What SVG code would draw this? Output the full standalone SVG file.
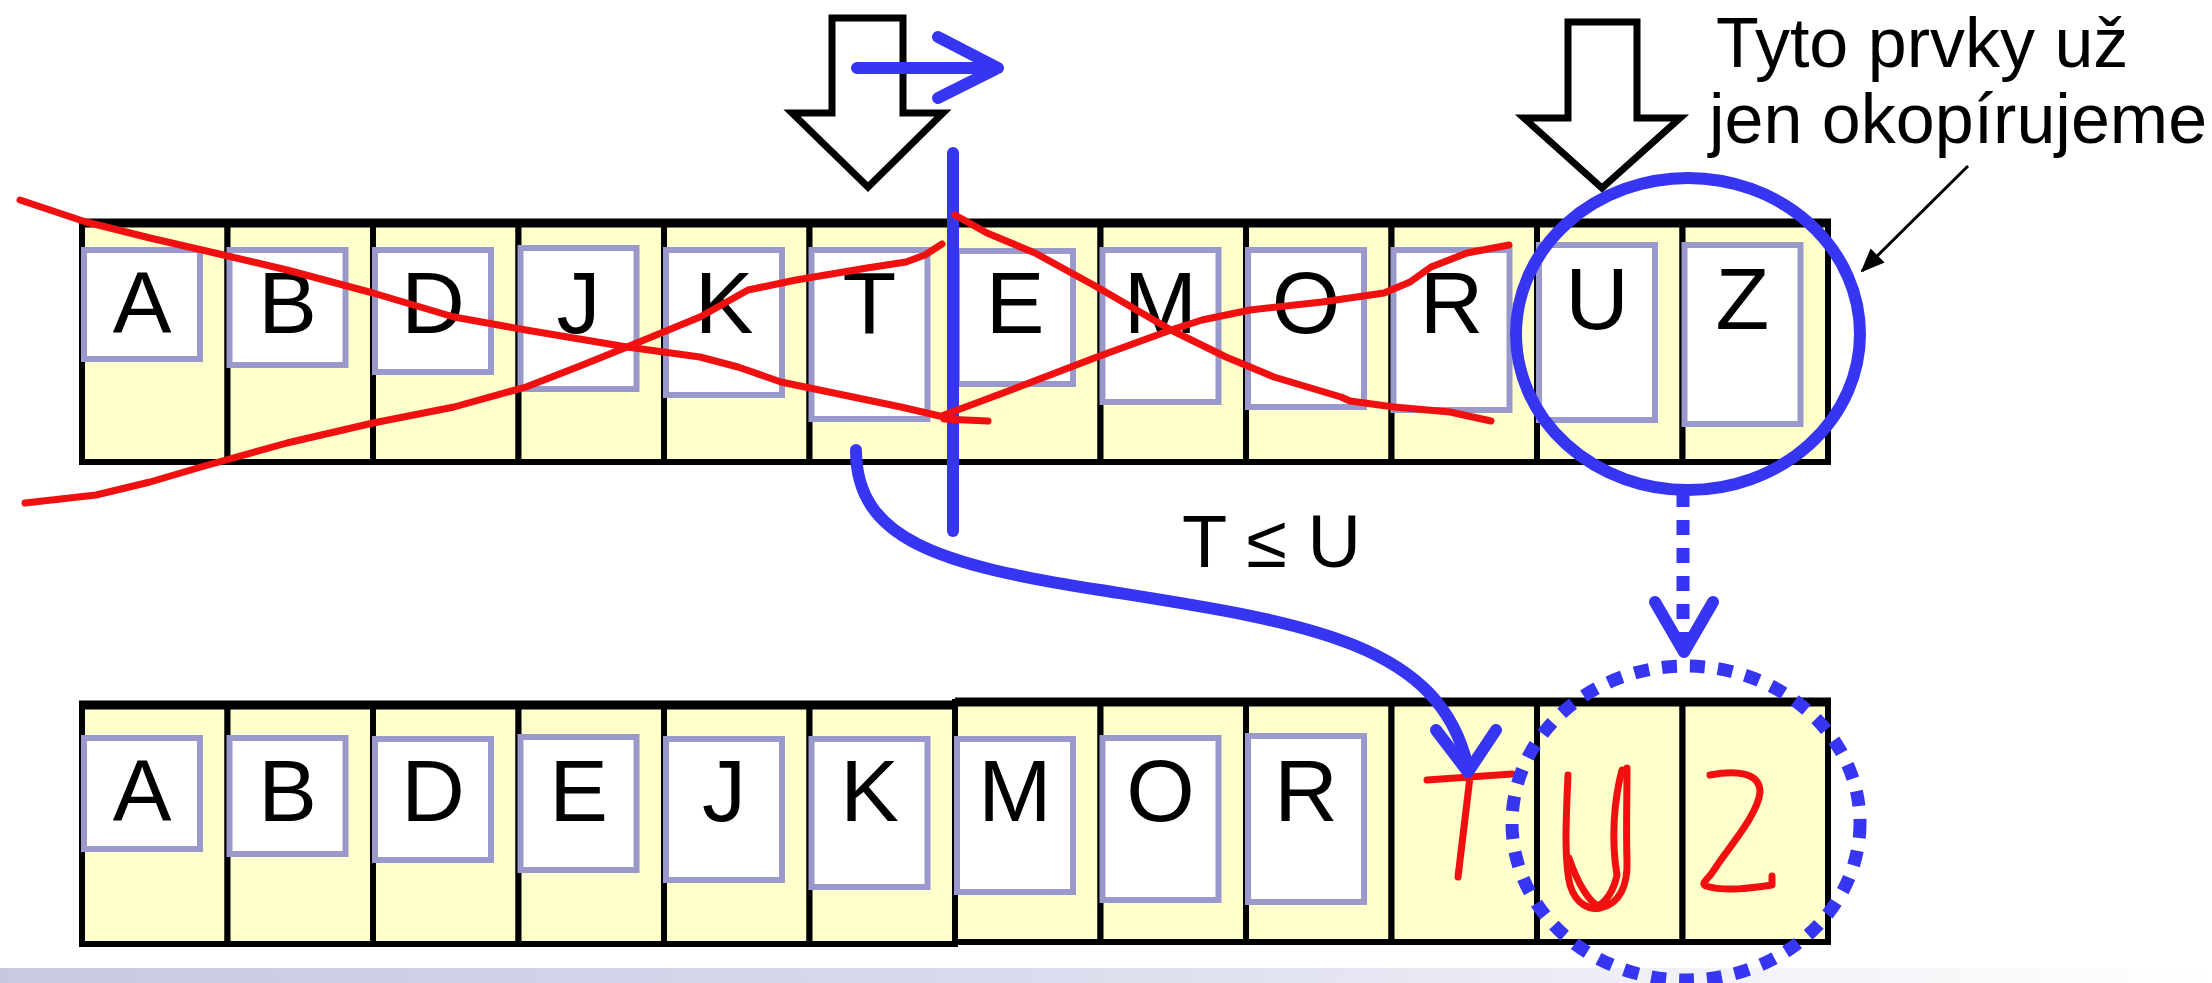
<svg xmlns="http://www.w3.org/2000/svg" width="2212" height="983" viewBox="0 0 2212 983">
  <defs>
    <style>
      .cell { fill: #ffffcc; stroke: #000; stroke-width: 6; }
      .box { fill: #fff; stroke: #9999cc; stroke-width: 6; }
      .ch { font-family: "Liberation Sans", Arial, sans-serif; font-size: 88px; fill: #000; text-anchor: middle; }
      .note { font-family: "Liberation Sans", Arial, sans-serif; fill: #000; }
      .edge { fill: none; stroke: #000; }
      .blue { fill: none; stroke: #3535f2; stroke-width: 12; stroke-linecap: round; stroke-linejoin: round; }
      .dash { fill: none; stroke: #3535f2; stroke-width: 13; stroke-dasharray: 15 13; }
      .red { fill: none; stroke: #f01010; stroke-width: 7; stroke-linecap: round; stroke-linejoin: round; }
      .bigarrow { fill: #fff; stroke: #000; stroke-width: 7; stroke-linejoin: miter; }
    </style>
    <linearGradient id="footer" x1="0" y1="0" x2="1" y2="0">
      <stop offset="0" stop-color="#c7c9e3"/>
      <stop offset="0.45" stop-color="#d9daec"/>
      <stop offset="0.8" stop-color="#f3f3f8"/>
      <stop offset="1" stop-color="#ffffff"/>
    </linearGradient>
    <marker id="tip" viewBox="0 0 24 20" refX="22" refY="10" markerWidth="24" markerHeight="20" markerUnits="userSpaceOnUse" orient="auto">
      <path d="M0,0 L24,10 L0,20 z" fill="#000"/>
    </marker>
  </defs>

  <rect width="2212" height="983" fill="#fff"/>
  <rect x="0" y="968" width="2212" height="15" fill="url(#footer)"/>

  <!-- upper array: input sequence -->
  <g id="top-array">
    <g id="top-A"><rect class="cell" x="82" y="223" width="145.5" height="239"/><rect class="box" x="84" y="250" width="116" height="109"/><text class="ch" x="142" y="333">A</text></g>
    <g id="top-B"><rect class="cell" x="227.5" y="223" width="145.5" height="239"/><rect class="box" x="229.5" y="250" width="116" height="115"/><text class="ch" x="287.5" y="333">B</text></g>
    <g id="top-D"><rect class="cell" x="373" y="223" width="145.5" height="239"/><rect class="box" x="375" y="250" width="116" height="122"/><text class="ch" x="433" y="333">D</text></g>
    <g id="top-J"><rect class="cell" x="518.5" y="223" width="145.5" height="239"/><rect class="box" x="520.5" y="248" width="116" height="141"/><text class="ch" x="578.5" y="333">J</text></g>
    <g id="top-K"><rect class="cell" x="664" y="223" width="145.5" height="239"/><rect class="box" x="666" y="250" width="116" height="145"/><text class="ch" x="724" y="333">K</text></g>
    <g id="top-T"><rect class="cell" x="809.5" y="223" width="145.5" height="239"/><rect class="box" x="811.5" y="250" width="116" height="169"/><text class="ch" x="869.5" y="333">T</text></g>
    <g id="top-E"><rect class="cell" x="955" y="223" width="145.5" height="239"/><rect class="box" x="957" y="251" width="116" height="133"/><text class="ch" x="1015" y="333">E</text></g>
    <g id="top-M"><rect class="cell" x="1100.5" y="223" width="145.5" height="239"/><rect class="box" x="1102.5" y="250" width="116" height="152"/><text class="ch" x="1160.5" y="333">M</text></g>
    <g id="top-O"><rect class="cell" x="1246" y="223" width="145.5" height="239"/><rect class="box" x="1248" y="250" width="116" height="157"/><text class="ch" x="1306" y="333">O</text></g>
    <g id="top-R"><rect class="cell" x="1391.5" y="223" width="145.5" height="239"/><rect class="box" x="1393.5" y="250" width="116" height="160"/><text class="ch" x="1451.5" y="333">R</text></g>
    <g id="top-U"><rect class="cell" x="1537" y="223" width="145.5" height="239"/><rect class="box" x="1539" y="245" width="116" height="175"/><text class="ch" x="1597" y="329">U</text></g>
    <g id="top-Z"><rect class="cell" x="1682.5" y="223" width="145.5" height="239"/><rect class="box" x="1684.5" y="245" width="116" height="179"/><text class="ch" x="1742.5" y="329">Z</text></g>
    <line class="edge" x1="79" y1="223" x2="1831" y2="223" stroke-width="9"/>
  </g>

  <!-- lower array: merged output -->
  <g id="bottom-array">
    <g id="bot-A"><rect class="cell" x="82" y="705" width="145.5" height="239"/><rect class="box" x="84" y="738" width="116" height="111"/><text class="ch" x="142" y="821">A</text></g>
    <g id="bot-B"><rect class="cell" x="227.5" y="705" width="145.5" height="239"/><rect class="box" x="229.5" y="738" width="116" height="116"/><text class="ch" x="287.5" y="821">B</text></g>
    <g id="bot-D"><rect class="cell" x="373" y="705" width="145.5" height="239"/><rect class="box" x="375" y="739" width="116" height="121"/><text class="ch" x="433" y="821">D</text></g>
    <g id="bot-E"><rect class="cell" x="518.5" y="705" width="145.5" height="239"/><rect class="box" x="520.5" y="737" width="116" height="133"/><text class="ch" x="578.5" y="821">E</text></g>
    <g id="bot-J"><rect class="cell" x="664" y="705" width="145.5" height="239"/><rect class="box" x="666" y="739" width="116" height="141"/><text class="ch" x="724" y="821">J</text></g>
    <g id="bot-K"><rect class="cell" x="809.5" y="705" width="145.5" height="239"/><rect class="box" x="811.5" y="739" width="116" height="148"/><text class="ch" x="869.5" y="821">K</text></g>
    <g id="bot-M"><rect class="cell" x="955" y="702" width="145.5" height="240"/><rect class="box" x="957" y="739" width="116" height="153"/><text class="ch" x="1015" y="821">M</text></g>
    <g id="bot-O"><rect class="cell" x="1100.5" y="702" width="145.5" height="240"/><rect class="box" x="1102.5" y="738" width="116" height="162"/><text class="ch" x="1160.5" y="821">O</text></g>
    <g id="bot-R"><rect class="cell" x="1246" y="702" width="145.5" height="240"/><rect class="box" x="1248" y="736" width="116" height="166"/><text class="ch" x="1306" y="821">R</text></g>
    <g id="bot-T"><rect class="cell" x="1391.5" y="702" width="145.5" height="240"/>
      <path class="red" d="M1427,780 L1512,774 M1470,777 L1458,877"/></g>
    <g id="bot-U"><rect class="cell" x="1537" y="702" width="145.5" height="240"/>
      <path class="red" d="M1568,775 C1566,820 1564,860 1570,885 C1576,905 1590,910 1600,908 C1620,904 1628,885 1627,860 C1626,830 1627,800 1627,768"/>
      <path class="red" d="M1569,858 C1578,885 1590,902 1598,906 M1622,770 C1614,800 1611,840 1617,875 C1614,890 1606,902 1598,906"/></g>
    <g id="bot-Z"><rect class="cell" x="1682.5" y="702" width="145.5" height="240"/>
      <path class="red" d="M1710,775 C1735,770 1760,772 1760,792 C1758,815 1728,848 1714,870 C1708,880 1700,883 1706,886 C1725,892 1752,888 1772,885 L1772,876"/></g>
    <line class="edge" x1="79" y1="705" x2="958" y2="705" stroke-width="9"/>
    <line class="edge" x1="955" y1="702" x2="1831" y2="702" stroke-width="9"/>
  </g>

  <!-- pointer arrows above the upper array -->
  <g id="ptr-left">
    <polygon class="bigarrow" points="832,18 903,18 903,113 943,113 868,187 792,113 832,113"/>
  </g>
  <g id="ptr-right">
    <polygon class="bigarrow" points="1568,22 1637,22 1637,118 1680,118 1602,188 1524,118 1568,118"/>
  </g>

  <!-- annotation text -->
  <g id="note">
    <text class="note" x="1716" y="67" font-size="70">Tyto prvky už</text>
    <text class="note" x="1709" y="143" font-size="70">jen okopírujeme</text>
  </g>
  <g id="cmp">
    <text class="note" x="1182" y="567" font-size="74">T ≤ U</text>
  </g>

  <!-- connectors and pen marks -->
  <g id="connectors">
    <line class="edge" x1="1968" y1="166" x2="1862" y2="271" stroke-width="3" marker-end="url(#tip)"/>

    <!-- run boundary and its movement -->
    <line class="blue" x1="953" y1="153" x2="953" y2="531" stroke-linecap="butt"/>
    <path class="blue" d="M857,68 L998,68 M938,37 L998,68 L938,98"/>

    <!-- crossed-out strokes -->
    <polyline class="red" points="20,200 86,222 150,238 215,253 287,270 373,293 454,317 526,330 627,347 700,357 738,367 781,382 853,397 901,407 944,417"/>
    <line class="red" x1="944" y1="419" x2="988" y2="421" stroke-width="10" stroke-linecap="butt"/>
    <polyline class="red" points="25,503 96,495 150,482 201,467 287,443 373,423 454,407 526,387 580,366 627,347 700,317 748,290 796,280 867,268 906,262 925,255 942,244"/>
    <polyline class="red" points="955,215 987,233 1035,253 1097,287 1171,330 1226,357 1274,377 1341,397 1350,401 1394,407 1450,412 1491,421"/>
    <polyline class="red" points="944,415 1011,390 1097,357 1171,330 1202,320 1250,310 1322,302 1384,293 1410,282 1431,267 1467,253 1509,245"/>

    <!-- move of T into the output -->
    <path class="blue" d="M856,450 C856,540 940,565 1100,590 C1300,622 1440,640 1468,768"/>
    <path class="blue" d="M1436,730 L1468,772 L1496,730"/>

    <!-- remaining elements copied -->
    <ellipse cx="1688" cy="334" rx="172" ry="156" fill="none" stroke="#3535f2" stroke-width="12"/>
    <line class="dash" x1="1683" y1="492" x2="1683" y2="640" stroke-dasharray="14 16"/>
    <path class="blue" d="M1655,602 L1684,652 L1713,602"/>
    <ellipse class="dash" cx="1686" cy="823" rx="174" ry="157"/>
  </g>
</svg>
